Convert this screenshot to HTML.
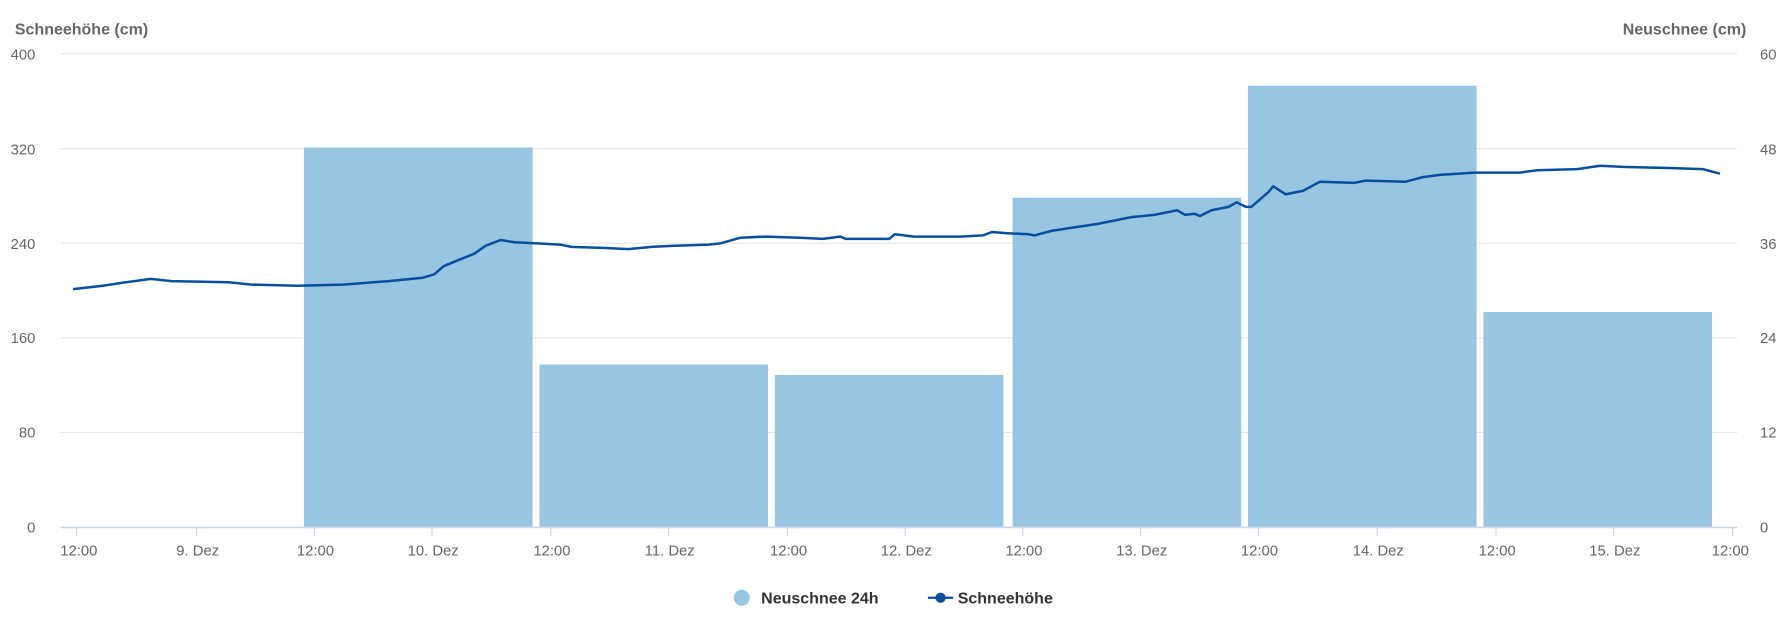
<!DOCTYPE html>
<html><head><meta charset="utf-8"><style>
html,body{margin:0;padding:0;background:#fff;}
svg{display:block;}
text{font-family:"Liberation Sans","DejaVu Sans",sans-serif;}
</style></head><body>
<svg width="1792" height="625" viewBox="0 0 1568 546.875" xmlns="http://www.w3.org/2000/svg">
<g stroke="#e6e6e6" stroke-width="1">
<line x1="53" x2="1520" y1="47" y2="47"/>
<line x1="53" x2="1520" y1="130" y2="130"/>
<line x1="53" x2="1520" y1="212.8" y2="212.8"/>
<line x1="53" x2="1520" y1="295.6" y2="295.6"/>
<line x1="53" x2="1520" y1="378.4" y2="378.4"/>
</g>
<g fill="#98c5e2">
<rect x="266" y="129" width="200" height="332"/>
<rect x="472" y="319" width="200" height="142"/>
<rect x="678" y="328" width="200" height="133"/>
<rect x="886" y="173" width="200" height="288"/>
<rect x="1092" y="75" width="200" height="386"/>
<rect x="1298" y="273" width="200" height="188"/>
</g>
<line x1="53" x2="1520" y1="461.5" y2="461.5" stroke="#ccd6eb" stroke-width="1.5"/>
<g stroke="#ccd6eb" stroke-width="1">
<line x1="67" x2="67" y1="461" y2="469"/><line x1="172" x2="172" y1="461" y2="469"/>
<line x1="275" x2="275" y1="461" y2="469"/><line x1="378" x2="378" y1="461" y2="469"/>
<line x1="482" x2="482" y1="461" y2="469"/><line x1="585" x2="585" y1="461" y2="469"/>
<line x1="689" x2="689" y1="461" y2="469"/><line x1="792" x2="792" y1="461" y2="469"/>
<line x1="895" x2="895" y1="461" y2="469"/><line x1="998" x2="998" y1="461" y2="469"/>
<line x1="1101" x2="1101" y1="461" y2="469"/><line x1="1205" x2="1205" y1="461" y2="469"/>
<line x1="1309" x2="1309" y1="461" y2="469"/><line x1="1412" x2="1412" y1="461" y2="469"/>
<line x1="1516" x2="1516" y1="461" y2="469"/>
</g>
<polyline fill="none" stroke="#0a4f9e" stroke-width="2.2" stroke-linejoin="round" points="64,253 90,250 110,247 132,244 150,246 200,247 220,249 260,250 300,249 340,246 370,243 380,240 388,233 400,228 415,222 425,215 438,210 450,212 470,213 490,214 500,216 530,217 550,218 570,216 590,215 620,214 630,213 648,208 670,207 700,208 720,209 735,207 740,209 770,209 778,209 783,205 800,207 840,207 860,206 868,203 880,204 900,205 905,206 920,202 940,199 960,196 990,190 1010,188 1020,186 1030,184 1037,188 1045,187 1050,189 1060,184 1075,181 1082,177 1090,181 1095,181 1110,168 1114,163 1125,170 1140,167 1155,159 1185,160 1195,158 1230,159 1245,155 1260,153 1290,151 1310,151 1330,151 1345,149 1380,148 1400,145 1420,146 1460,147 1490,148 1505,152"/>
<g font-size="14" font-weight="bold" fill="#666">
<text x="13" y="30">Schneehöhe (cm)</text>
<text x="1528" y="30" text-anchor="end">Neuschnee (cm)</text>
</g>
<g font-size="13" fill="#666" text-anchor="end">
<text x="31" y="52">400</text><text x="31" y="135">320</text><text x="31" y="218">240</text>
<text x="31" y="300">160</text><text x="31" y="383">80</text><text x="31" y="466">0</text>
</g>
<g font-size="13" fill="#666">
<text x="1540" y="52">60</text><text x="1540" y="135">48</text><text x="1540" y="218">36</text>
<text x="1540" y="300">24</text><text x="1540" y="383">12</text><text x="1540" y="466">0</text>
</g>
<g font-size="13" fill="#666" text-anchor="middle">
<text x="69" y="486">12:00</text><text x="173" y="486">9. Dez</text>
<text x="276" y="486">12:00</text><text x="379" y="486">10. Dez</text>
<text x="483" y="486">12:00</text><text x="586" y="486">11. Dez</text>
<text x="690" y="486">12:00</text><text x="793" y="486">12. Dez</text>
<text x="896" y="486">12:00</text><text x="999" y="486">13. Dez</text>
<text x="1102" y="486">12:00</text><text x="1206" y="486">14. Dez</text>
<text x="1310" y="486">12:00</text><text x="1413" y="486">15. Dez</text>
<text x="1514" y="486">12:00</text>
</g>
<circle cx="649" cy="523" r="7" fill="#98c5e2"/>
<text x="666" y="528" font-size="14" font-weight="bold" fill="#333">Neuschnee 24h</text>
<line x1="812" x2="834" y1="523" y2="523" stroke="#0a4f9e" stroke-width="2"/>
<circle cx="823" cy="523" r="4.5" fill="#0a4f9e"/>
<text x="838" y="528" font-size="14" font-weight="bold" fill="#333">Schneehöhe</text>
</svg>
</body></html>
